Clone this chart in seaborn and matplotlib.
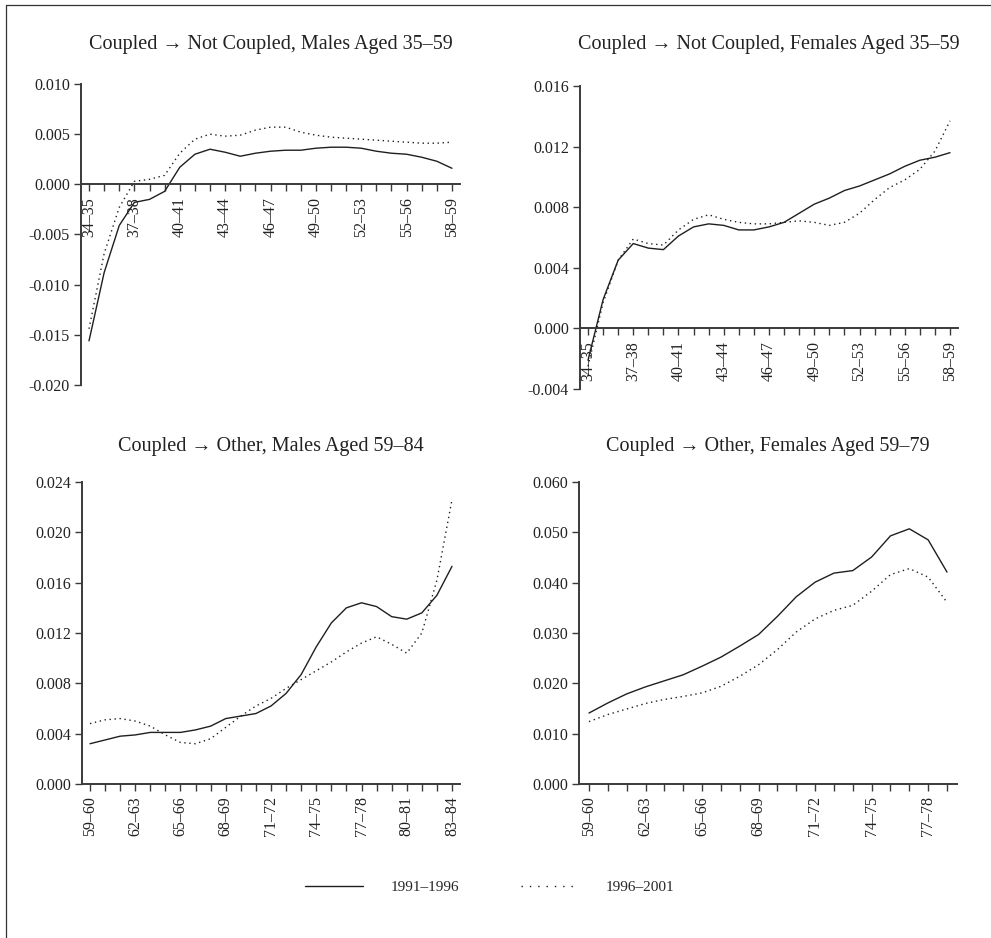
"""
Coupled -> not coupled / other transition rates, two census periods.
Four small line panels with a shared legend at the bottom.
"""

import numpy as np
import pandas as pd
import matplotlib
matplotlib.use("Agg")
import matplotlib.pyplot as plt
from matplotlib.lines import Line2D
import seaborn as sns

W, H = 991, 938
INK = "#1f1f1f"
AXIS = "#3a3a3a"

PERIODS = ["1991–1996", "1996–2001"]

AGES_34_58 = [f"{a}–{a + 1}" for a in range(34, 59)]
AGES_59_83 = [f"{a}–{a + 1}" for a in range(59, 84)]
AGES_59_78 = [f"{a}–{a + 1}" for a in range(59, 79)]

# Coupled -> Not Coupled, males 35-59
male_nc_9196 = [-0.0156, -0.0088, -0.0041, -0.0018, -0.0015, -0.0007, 0.0017, 0.0030,
                0.0035, 0.0032, 0.0028, 0.0031, 0.0033, 0.0034, 0.0034, 0.0036,
                0.0037, 0.0037, 0.0036, 0.0033, 0.0031, 0.0030, 0.0027, 0.0023, 0.0016]
male_nc_9601 = [-0.0144, -0.0069, -0.0023, 0.0003, 0.0005, 0.0009, 0.0031, 0.0045,
                0.0050, 0.0048, 0.0049, 0.0054, 0.0057, 0.0057, 0.0052, 0.0049,
                0.0047, 0.0046, 0.0045, 0.0044, 0.0043, 0.0042, 0.0041, 0.0041, 0.0042]

# Coupled -> Not Coupled, females 35-59
female_nc_9196 = [-0.0021, 0.0019, 0.0045, 0.0056, 0.0053, 0.0052, 0.0061, 0.0067,
                  0.0069, 0.0068, 0.0065, 0.0065, 0.0067, 0.0070, 0.0076, 0.0082,
                  0.0086, 0.0091, 0.0094, 0.0098, 0.0102, 0.0107, 0.0111, 0.0113, 0.0116]
female_nc_9601 = [-0.0025, 0.0017, 0.0045, 0.0059, 0.0056, 0.0055, 0.0065, 0.0072,
                  0.0075, 0.0072, 0.0070, 0.0069, 0.0069, 0.0070, 0.0071, 0.0070,
                  0.0068, 0.0070, 0.0076, 0.0085, 0.0093, 0.0098, 0.0105, 0.0117, 0.0137]

# Coupled -> Other, males 59-84
male_oth_9196 = [0.0032, 0.0035, 0.0038, 0.0039, 0.0041, 0.0041, 0.0041, 0.0043,
                 0.0046, 0.0052, 0.0054, 0.0056, 0.0062, 0.0072, 0.0087, 0.0109,
                 0.0128, 0.0140, 0.0144, 0.0141, 0.0133, 0.0131, 0.0136, 0.0150, 0.0173]
male_oth_9601 = [0.0048, 0.0051, 0.0052, 0.0050, 0.0046, 0.0039, 0.0033, 0.0032,
                 0.0036, 0.0045, 0.0054, 0.0062, 0.0068, 0.0076, 0.0083, 0.0090,
                 0.0097, 0.0105, 0.0112, 0.0117, 0.0111, 0.0104, 0.0120, 0.0162, 0.0226]

# Coupled -> Other, females 59-79
female_oth_9196 = [0.0141, 0.0161, 0.0179, 0.0193, 0.0205, 0.0217, 0.0234, 0.0252,
                   0.0274, 0.0297, 0.0333, 0.0372, 0.0401, 0.0419, 0.0424, 0.0451,
                   0.0493, 0.0507, 0.0485, 0.0421]
female_oth_9601 = [0.0124, 0.0138, 0.0149, 0.0160, 0.0168, 0.0174, 0.0181, 0.0194,
                   0.0214, 0.0237, 0.0267, 0.0302, 0.0328, 0.0345, 0.0355, 0.0383,
                   0.0416, 0.0428, 0.0411, 0.0361]

PANELS = [
    dict(title="Coupled → Not Coupled, Males Aged 35–59", cats=AGES_34_58,
         series=(male_nc_9196, male_nc_9601),
         yticks=[-0.020, -0.015, -0.010, -0.005, 0.000, 0.005, 0.010],
         box=(81, 460, 84, 385), title_y=45),
    dict(title="Coupled → Not Coupled, Females Aged 35–59", cats=AGES_34_58,
         series=(female_nc_9196, female_nc_9601),
         yticks=[-0.004, 0.000, 0.004, 0.008, 0.012, 0.016],
         box=(580, 958, 86, 389), title_y=45),
    dict(title="Coupled → Other, Males Aged 59–84", cats=AGES_59_83,
         series=(male_oth_9196, male_oth_9601),
         yticks=[0.000, 0.004, 0.008, 0.012, 0.016, 0.020, 0.024],
         box=(82, 460, 482, 784), title_y=447),
    dict(title="Coupled → Other, Females Aged 59–79", cats=AGES_59_78,
         series=(female_oth_9196, female_oth_9601),
         yticks=[0.000, 0.010, 0.020, 0.030, 0.040, 0.050, 0.060],
         box=(579, 957, 482, 784), title_y=447),
]

sns.set_style("ticks")
plt.rcParams["font.family"] = ["Liberation Serif", "DejaVu Serif"]
plt.rcParams["axes.unicode_minus"] = False

fig = plt.figure(figsize=(W / 100, H / 100), dpi=100)

for p in PANELS:
    left, right, top, bottom = p["box"]
    ax = fig.add_axes([left / W, 1 - bottom / H, (right - left) / W, (bottom - top) / H])

    cats = p["cats"]
    n = len(cats)
    df = pd.DataFrame({
        "pos": list(range(n)) * 2,
        "rate": list(p["series"][0]) + list(p["series"][1]),
        "period": [PERIODS[0]] * n + [PERIODS[1]] * n,
    })
    sns.lineplot(data=df, x="pos", y="rate", hue="period", style="period",
                 palette={PERIODS[0]: INK, PERIODS[1]: INK},
                 dashes={PERIODS[0]: "", PERIODS[1]: (1, 2.6)},
                 linewidth=1.0, ax=ax, legend=False)

    yt = p["yticks"]
    ax.set_ylim(yt[0], yt[-1])
    ax.set_yticks(yt)
    ax.set_yticklabels([f"{v:.3f}" for v in yt])
    ax.set_xlim(-0.53, n - 0.47)
    ax.set_xticks(np.arange(n))
    ax.set_xticklabels([c if i % 3 == 0 else "" for i, c in enumerate(cats)])
    ax.set_xlabel("")
    ax.set_ylabel("")

    sns.despine(ax=ax)
    ax.spines["bottom"].set_position(("data", 0))
    for s in ("left", "bottom"):
        ax.spines[s].set_color(AXIS)
        ax.spines[s].set_linewidth(1.4)
    ax.tick_params(axis="both", direction="out", length=5, width=1.0, color=AXIS,
                   labelsize=11.5, labelcolor="#222222", pad=3)
    ax.tick_params(axis="x", pad=4, labelrotation=90)

    fig.text((left + right) / 2 / W, 1 - p["title_y"] / H, p["title"],
             ha="center", va="center", fontsize=14.5, color="#222222")

# shared legend
leg_handles = [Line2D([], [], color=INK, lw=1.0),
               Line2D([], [], color=INK, lw=1.0, dashes=(1, 5))]
fig.legend(leg_handles, PERIODS, loc="center", bbox_to_anchor=(490 / W, 1 - 887 / H),
           ncol=2, frameon=False, fontsize=11, handlelength=3.8, handletextpad=1.8,
           columnspacing=4.0)

# page frame (left and top edges)
fig.add_artist(Line2D([6 / W, 6 / W], [0, 1 - 5 / H], transform=fig.transFigure,
                      color="#333333", lw=0.9))
fig.add_artist(Line2D([6 / W, 1], [1 - 5 / H, 1 - 5 / H], transform=fig.transFigure,
                      color="#333333", lw=0.9))

fig.savefig("out.png", dpi=100, facecolor="white")
plt.close(fig)
